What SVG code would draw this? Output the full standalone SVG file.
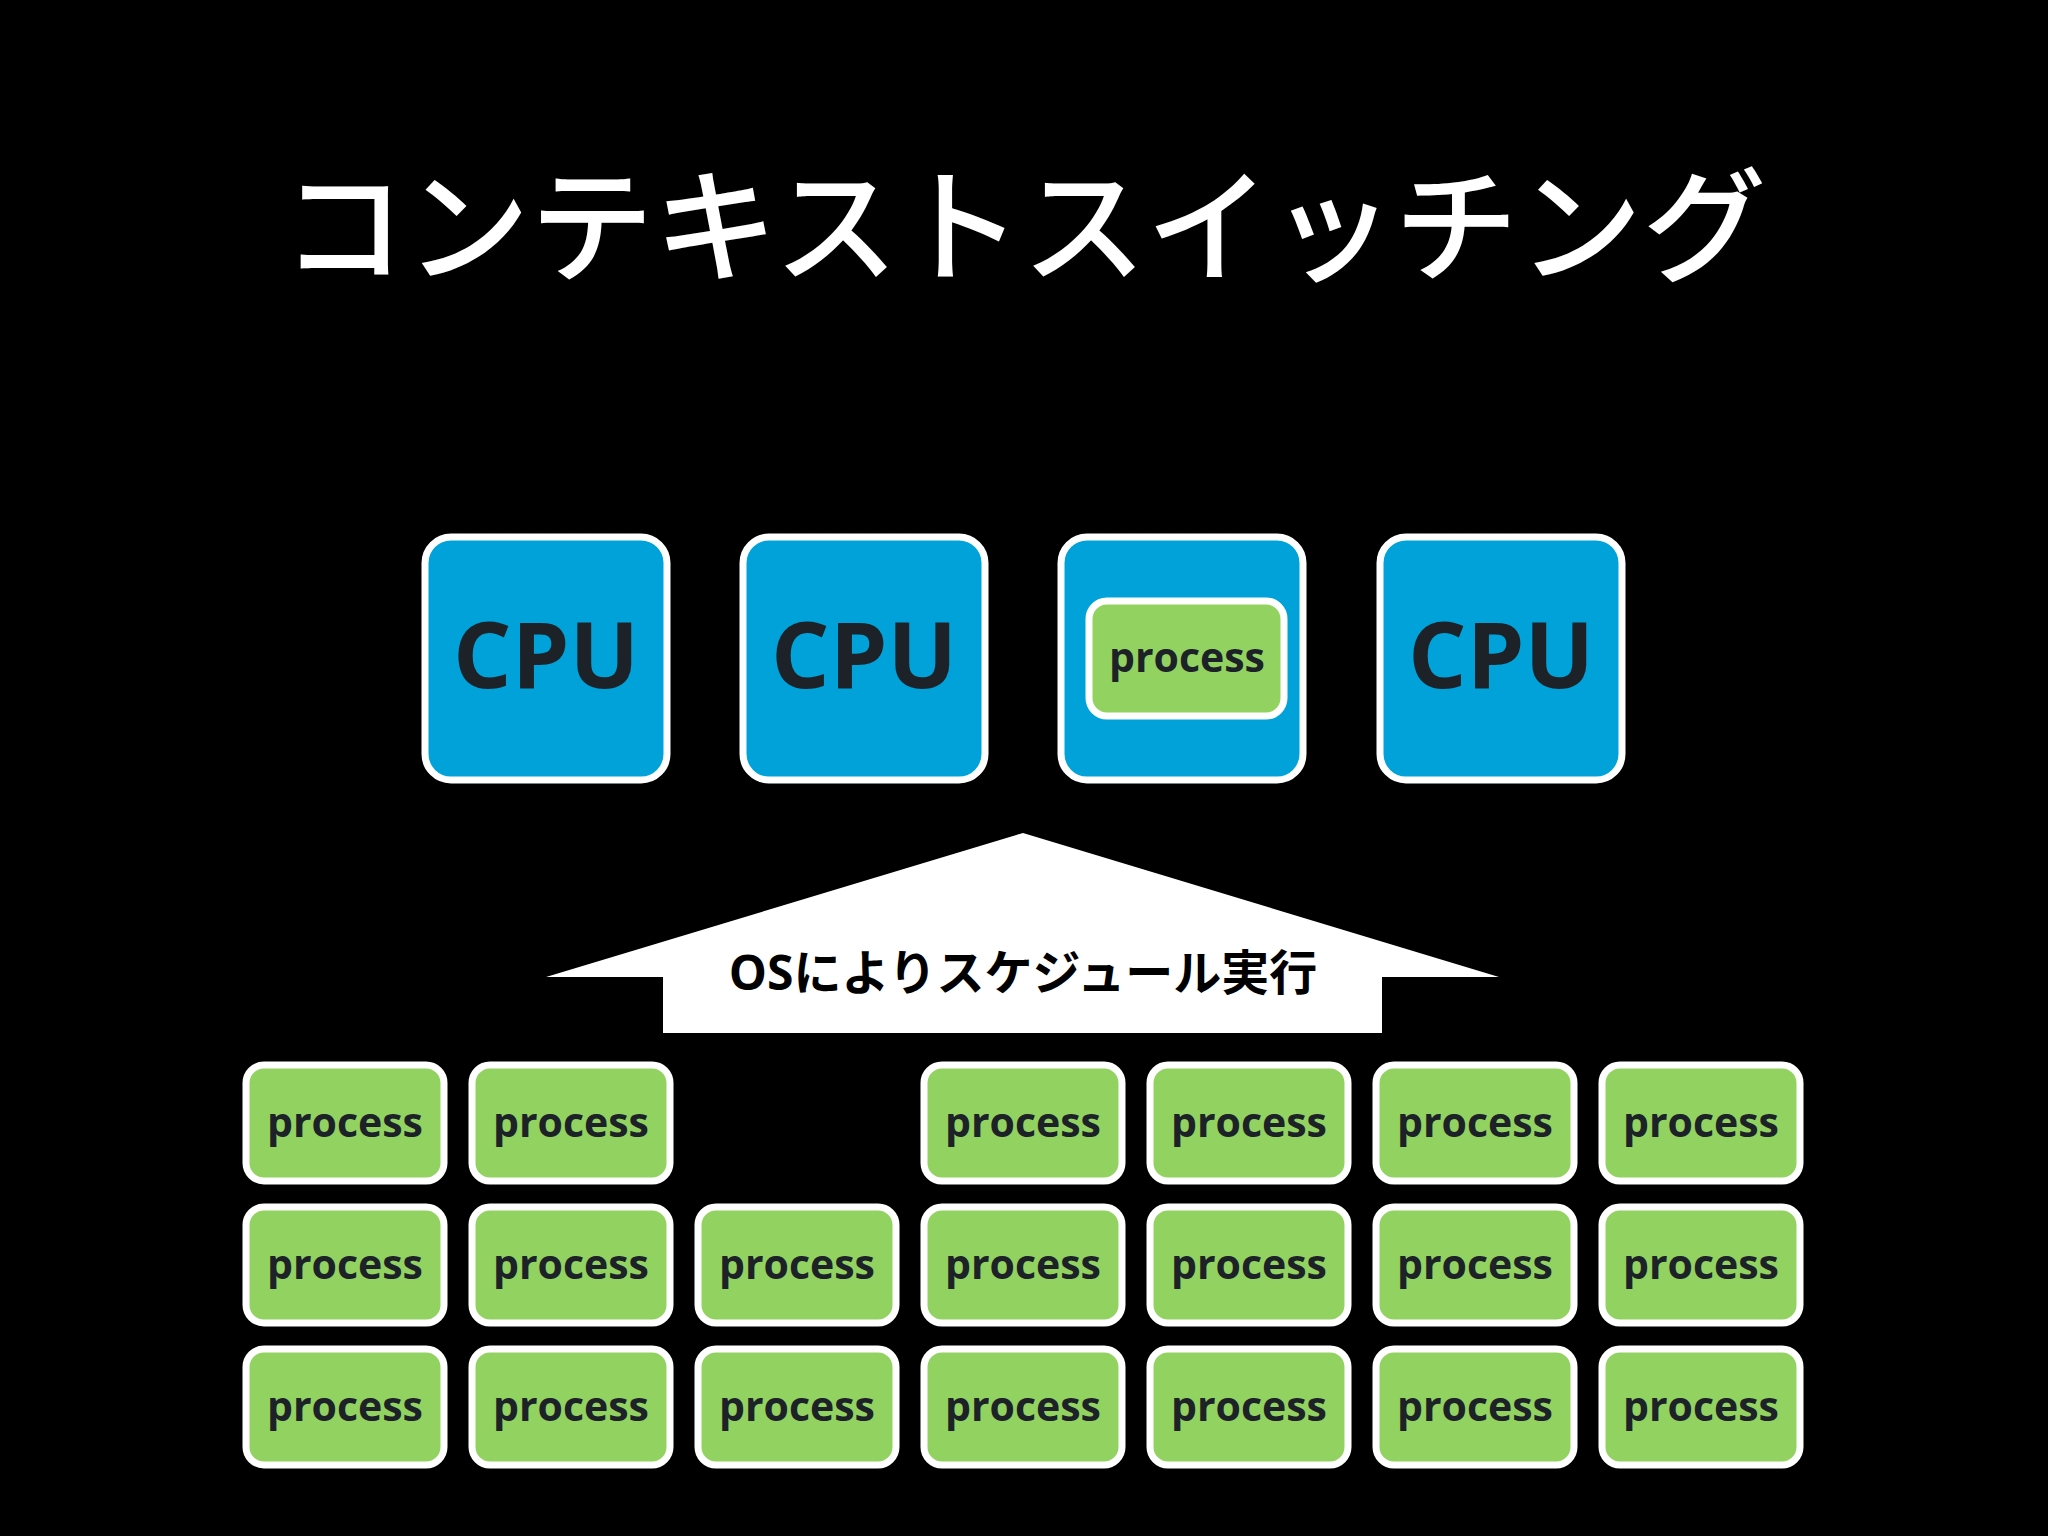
<svg xmlns="http://www.w3.org/2000/svg" width="2048" height="1536" viewBox="0 0 2048 1536">
<style>
.cpu{fill:#00a3d9;stroke:#fff;stroke-width:7}
.cpt{font-family:"Open Sans","Noto Sans",sans-serif;font-weight:bold;font-size:92px;fill:#1d2228;text-anchor:middle}
.p{fill:#92d260;stroke:#fff;stroke-width:7}
.pt{font-family:"Open Sans","Noto Sans",sans-serif;font-weight:bold;font-size:41px;fill:#1d2228;text-anchor:middle}
</style>
<rect width="2048" height="1536" fill="#000"/>
<text x="1024" y="272" font-family="'Noto Sans CJK JP',sans-serif" font-size="124" font-weight="500" fill="#fff" text-anchor="middle">コンテキストスイッチング</text>
<g id="cpu1"><rect class="cpu" x="425" y="537" width="242" height="243" rx="26"/><text class="cpt" x="546" y="688">CPU</text></g>
<g id="cpu2"><rect class="cpu" x="743" y="537" width="242" height="243" rx="26"/><text class="cpt" x="864" y="688">CPU</text></g>
<g id="cpu3"><rect class="cpu" x="1061" y="537" width="242" height="243" rx="26"/>
<rect class="p" x="1089" y="601" width="195" height="115" rx="18"/><text class="pt" x="1187" y="672">process</text></g>
<g id="cpu4"><rect class="cpu" x="1380" y="537" width="242" height="243" rx="26"/><text class="cpt" x="1501" y="688">CPU</text></g>
<g id="arrow"><polygon points="1023,833 1499,977 1382,977 1382,1033 663,1033 663,977 546,977" fill="#fff"/>
<text x="1023" y="990" font-family="'Open Sans','Noto Sans CJK JP',sans-serif" font-weight="bold" font-size="48" fill="#000" text-anchor="middle">OSによりスケジュール実行</text></g>
<g id="processes">
<g id="r1">
<rect class="p" x="246" y="1065" width="198" height="116" rx="18"/><text class="pt" x="345" y="1137">process</text>
<rect class="p" x="472" y="1065" width="198" height="116" rx="18"/><text class="pt" x="571" y="1137">process</text>
<rect class="p" x="924" y="1065" width="198" height="116" rx="18"/><text class="pt" x="1023" y="1137">process</text>
<rect class="p" x="1150" y="1065" width="198" height="116" rx="18"/><text class="pt" x="1249" y="1137">process</text>
<rect class="p" x="1376" y="1065" width="198" height="116" rx="18"/><text class="pt" x="1475" y="1137">process</text>
<rect class="p" x="1602" y="1065" width="198" height="116" rx="18"/><text class="pt" x="1701" y="1137">process</text>
</g>
<g id="r2">
<rect class="p" x="246" y="1207" width="198" height="116" rx="18"/><text class="pt" x="345" y="1279">process</text>
<rect class="p" x="472" y="1207" width="198" height="116" rx="18"/><text class="pt" x="571" y="1279">process</text>
<rect class="p" x="698" y="1207" width="198" height="116" rx="18"/><text class="pt" x="797" y="1279">process</text>
<rect class="p" x="924" y="1207" width="198" height="116" rx="18"/><text class="pt" x="1023" y="1279">process</text>
<rect class="p" x="1150" y="1207" width="198" height="116" rx="18"/><text class="pt" x="1249" y="1279">process</text>
<rect class="p" x="1376" y="1207" width="198" height="116" rx="18"/><text class="pt" x="1475" y="1279">process</text>
<rect class="p" x="1602" y="1207" width="198" height="116" rx="18"/><text class="pt" x="1701" y="1279">process</text>
</g>
<g id="r3">
<rect class="p" x="246" y="1349" width="198" height="116" rx="18"/><text class="pt" x="345" y="1421">process</text>
<rect class="p" x="472" y="1349" width="198" height="116" rx="18"/><text class="pt" x="571" y="1421">process</text>
<rect class="p" x="698" y="1349" width="198" height="116" rx="18"/><text class="pt" x="797" y="1421">process</text>
<rect class="p" x="924" y="1349" width="198" height="116" rx="18"/><text class="pt" x="1023" y="1421">process</text>
<rect class="p" x="1150" y="1349" width="198" height="116" rx="18"/><text class="pt" x="1249" y="1421">process</text>
<rect class="p" x="1376" y="1349" width="198" height="116" rx="18"/><text class="pt" x="1475" y="1421">process</text>
<rect class="p" x="1602" y="1349" width="198" height="116" rx="18"/><text class="pt" x="1701" y="1421">process</text>
</g>
</g>
</svg>
